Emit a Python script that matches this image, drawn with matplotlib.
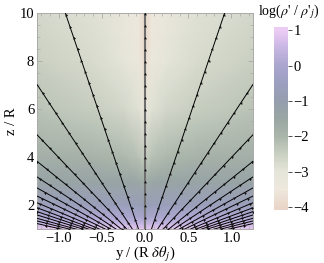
import numpy as np
import matplotlib
matplotlib.use("Agg")
import matplotlib.pyplot as plt
from matplotlib.colors import LinearSegmentedColormap

plt.rcParams['font.family'] = ['Liberation Serif', 'DejaVu Serif']
plt.rcParams['mathtext.fontset'] = 'stix'

# density field (log rho'/rho'_j)
y_grid = [-1.25, -0.6, -0.25, -0.08, 0.0, 0.08, 0.25, 0.6, 1.25]
z_grid = [1.0, 1.25, 1.5, 2.0, 3.0, 4.0, 6.0, 8.0, 10.0]
rho_z1 = [0.95, 0.95, 0.95, 0.92, 0.9, 0.92, 0.95, 0.95, 0.95]
rho_z125 = [0.45, 0.45, 0.43, 0.42, 0.4, 0.42, 0.43, 0.45, 0.45]
rho_z15 = [0.05, 0.05, 0.03, 0.0, -0.05, 0.0, 0.03, 0.05, 0.05]
rho_z2 = [-0.6, -0.6, -0.65, -0.7, -0.8, -0.7, -0.65, -0.6, -0.6]
rho_z3 = [-1.35, -1.4, -1.45, -1.55, -1.75, -1.55, -1.45, -1.4, -1.35]
rho_z4 = [-1.8, -1.9, -2.05, -2.2, -2.45, -2.2, -2.05, -1.9, -1.8]
rho_z6 = [-2.25, -2.45, -2.65, -2.9, -3.3, -2.9, -2.65, -2.45, -2.25]
rho_z8 = [-2.5, -2.75, -3.0, -3.3, -3.8, -3.3, -3.0, -2.75, -2.5]
rho_z10 = [-2.7, -2.9, -3.2, -3.5, -4.0, -3.5, -3.2, -2.9, -2.7]

# streamlines: common source point and where each leaves the frame
source = (0.0, 0.2)
top_exit_y = [-0.92, 0.0, 0.92]
side_exit_z = [7.04, 4.94, 3.83, 3.18, 2.72, 2.38, 2.10, 1.89, 1.73, 1.59, 1.45, 1.34, 1.23]

cb_vals = [-4.0, -3.5, -3.0, -2.5, -2.0, -1.5, -1.0, -0.5, 0.0, 0.5, 1.0]
cb_cols = ['#E9D6C9', '#EEE8DD', '#E5E5DA', '#C9D0C2', '#AAB5AA', '#99A6A3',
           '#959EAD', '#9C9FBF', '#AAA6CE', '#C6B6E2', '#ECCBF4']
vmin, vmax = -4.08, 1.1
stops = [((v - vmin) / (vmax - vmin), c) for v, c in zip(cb_vals, cb_cols)]
stops = [(0.0, cb_cols[0])] + stops + [(1.0, cb_cols[-1])]
cmap = LinearSegmentedColormap.from_list('rho', stops)

fig = plt.figure(figsize=(3.24, 2.63), dpi=100)
ax = fig.add_axes([0.114, 0.129, 0.667, 0.82])
cax = fig.add_axes([0.846, 0.2015, 0.043, 0.697])

Y, Z = np.meshgrid(y_grid, z_grid)
V = np.array([rho_z1, rho_z125, rho_z15, rho_z2, rho_z3, rho_z4, rho_z6, rho_z8, rho_z10])
mesh = ax.pcolormesh(Y, Z, V, shading='gouraud', cmap=cmap, vmin=vmin, vmax=vmax,
                     rasterized=True)
ax.set_xlim(-1.25, 1.25)
ax.set_ylim(1.0, 10.0)

# build the list of ray end points
ends = [(y, 10.0) for y in top_exit_y]
ends += [(-1.25, z) for z in side_exit_z] + [(1.25, z) for z in side_exit_z]


def draw_ray(end, color, lw):
    ys = np.linspace(source[0], end[0], 400)
    zs = np.linspace(source[1], end[1], 400)
    ax.plot(ys, zs, color=color, lw=lw, zorder=3)
    pts = ax.transData.transform(np.column_stack([ys, zs]))
    seg = np.hypot(np.diff(pts[:, 0]), np.diff(pts[:, 1]))
    s = np.concatenate([[0], np.cumsum(seg)])
    marks = np.arange(6.0, s[-1], 12.0)
    mx = np.interp(marks, s, pts[:, 0])
    my = np.interp(marks, s, pts[:, 1])
    ang = np.degrees(np.arctan2(pts[-1, 1] - pts[0, 1], pts[-1, 0] - pts[0, 0]))
    md = ax.transData.inverted().transform(np.column_stack([mx, my]))
    ax.plot(md[:, 0], md[:, 1], ls='none', marker=(3, 0, ang - 90), ms=2.4,
            color='#111111', mew=0, zorder=4)


for e in ends:
    if e[0] == 0.0:
        draw_ray(e, '#6f6f6f', 1.5)
    else:
        draw_ray(e, 'black', 0.7)

ax.set_xticks([-1.0, -0.5, 0.0, 0.5, 1.0])
ax.set_yticks([2, 4, 6, 8, 10])
ax.set_xticks(np.arange(-1.2, 1.25, 0.1), minor=True)
ax.set_yticks(np.arange(1.0, 10.01, 0.5), minor=True)
ax.tick_params(which='both', direction='in', top=True, right=True, color='#aaaaaa',
               labelsize=10.5, pad=2)
ax.tick_params(which='major', length=3.5, width=0.6)
ax.tick_params(which='minor', length=2, width=0.5)
for sp in ax.spines.values():
    sp.set_color('#aaaaaa')
    sp.set_linewidth(0.7)
ax.set_xlabel(r'y / (R $\delta\theta_j$)', fontsize=10.5, labelpad=0)
ax.set_ylabel('z / R', fontsize=10.5, labelpad=1)

cb = fig.colorbar(mesh, cax=cax)
cb.set_ticks([1, 0, -1, -2, -3, -4])
cb.ax.tick_params(labelsize=10.5, length=3, width=0.6, color='#333333', pad=1)
cb.outline.set_linewidth(0)
fig.text(0.89, 0.955, r"log($\rho$' / $\rho$'$_j$)", fontsize=10, ha='center', va='center')

fig.savefig('out.png', dpi=100)
